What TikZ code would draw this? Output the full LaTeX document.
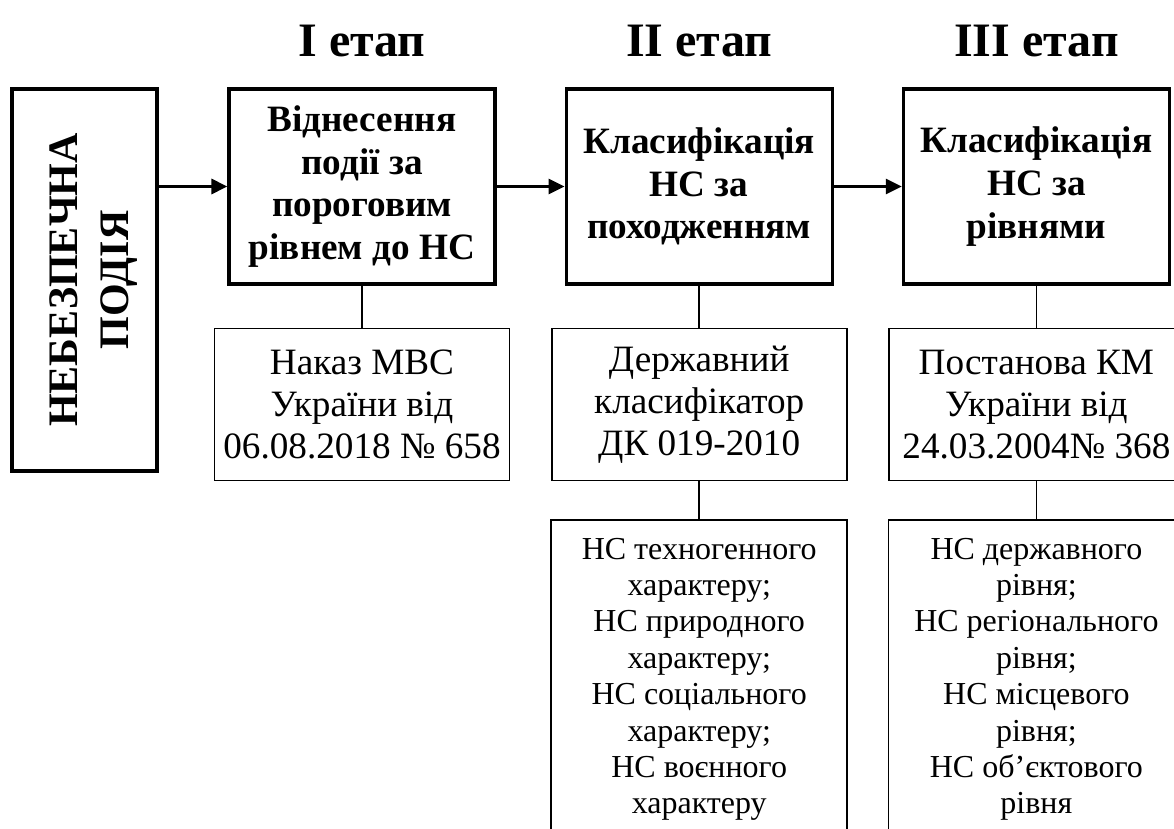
\documentclass[tikz,border=0pt]{standalone}
\usepackage{fontspec}
\setmainfont{Liberation Serif}
\usetikzlibrary{positioning, arrows.meta}

\tikzset{
  stage/.style={font=\fontsize{24}{28}\selectfont\bfseries, anchor=base},
  main/.style={draw, line width=1.6pt, minimum width=133pt, minimum height=97.5pt, align=center, inner sep=2pt, font=\fontsize{18.6}{21.3}\selectfont\bfseries},
  doc/.style={draw, line width=0.9pt, minimum width=147.5pt, minimum height=76pt, align=center, inner sep=2pt, font=\fontsize{18.6}{21}\selectfont},
  kinds/.style={draw, line width=0.9pt, minimum width=148pt, minimum height=159pt, align=center, inner sep=2pt, font=\fontsize{16}{18.2}\selectfont},
  arr/.style={line width=1.5pt, -{Triangle[length=8pt,width=7.5pt]}},
  link/.style={line width=0.8pt}
}

\begin{document}
\begin{tikzpicture}[x=0.5pt, y=-0.5pt]
\useasboundingbox (0,0) rectangle (1174,829);
\clip (0,0) rectangle (1174,829);
\node[main, rotate=90, minimum width=191pt, minimum height=72.5pt, font=\fontsize{21}{25.5}\selectfont\bfseries] (ev) at (84.5,280) {\rule{0pt}{23pt}НЕБЕЗПЕЧНА\\ПОДІЯ};
\node[main] (b1) at (362,186.5) {Віднесення\\події за\\пороговим\\рівнем до НС};
\node[main, right=34pt of b1] (b2) {Класифікація\\НС за\\походженням};
\node[main, right=34pt of b2] (b3) {Класифікація\\НС за\\рівнями};
\node[stage] (s1) at (b1.north |- 0,57) {I етап};
\node[stage] (s2) at (b2.north |- 0,57) {II етап};
\node[stage] (s3) at (b3.north |- 0,57) {III етап};
\node[doc, below=21pt of b1] (d1) {Наказ МВС\\України від\\06.08.2018 № 658};
\node[doc, below=21pt of b2] (d2) {Державний\\класифікатор\\ДК 019-2010};
\node[doc, below=21pt of b3] (d3) {Постанова КМ\\України від\\24.03.2004№ 368};
\node[kinds, below=19pt of d2] (k2) {НС техногенного\\характеру;\\НС природного\\характеру;\\НС соціального\\характеру;\\НС воєнного\\характеру};
\node[kinds, below=19pt of d3] (k3) {НС державного\\рівня;\\НС регіонального\\рівня;\\НС місцевого\\рівня;\\НС об’єктового\\рівня};
\draw[arr] (ev.south |- b1) -- (b1.west);
\draw[arr] (b1) -- (b2);
\draw[arr] (b2) -- (b3);
\draw[link] (b1) -- (d1);
\draw[link] (b2) -- (d2);
\draw[link] (b3) -- (d3);
\draw[link] (d2) -- (k2);
\draw[link] (d3) -- (k3);
\end{tikzpicture}
\end{document}
